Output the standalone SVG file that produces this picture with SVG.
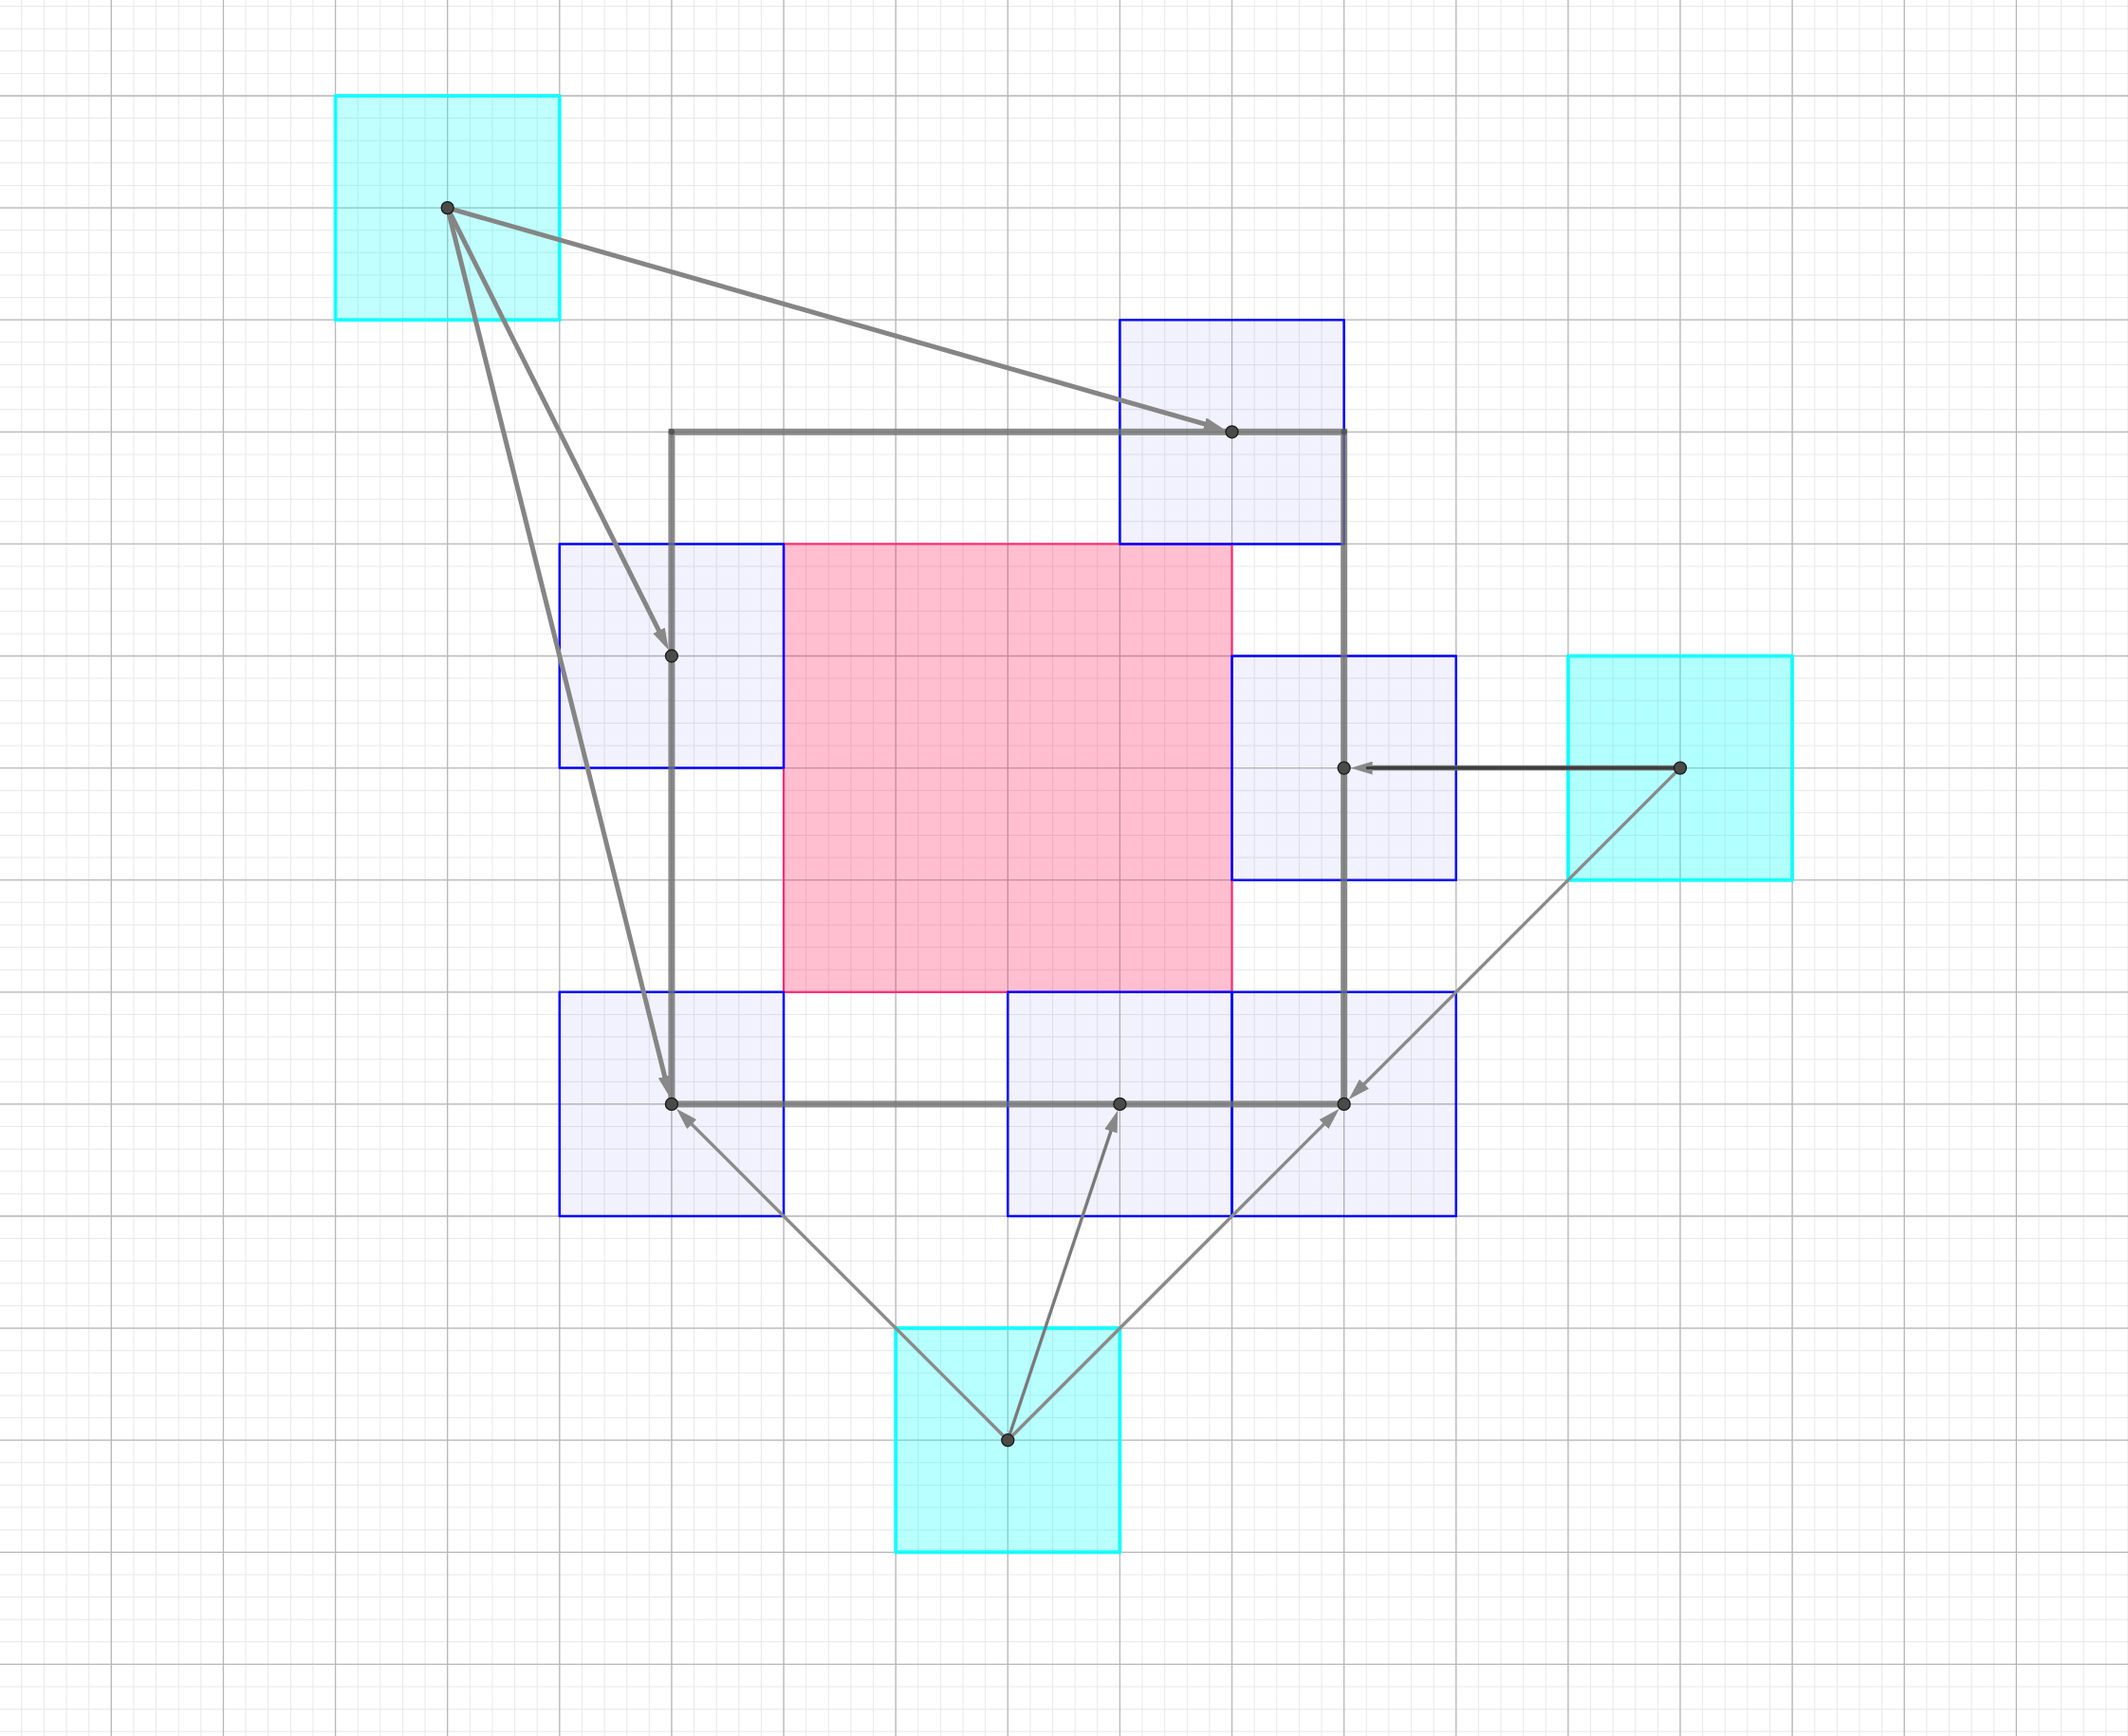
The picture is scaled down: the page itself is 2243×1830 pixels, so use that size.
<svg xmlns="http://www.w3.org/2000/svg" width="2243" height="1830" viewBox="0 0 2243 1830">
<style>
.cyan{fill:#00ffff;fill-opacity:0.26;stroke:#00ffff;stroke-opacity:0.85;stroke-width:4;stroke-linejoin:round}
.blue{fill:#0000ff;fill-opacity:0.05;stroke:#0000ff;stroke-width:2.5;stroke-linejoin:round}
.pink{fill:#ff0044;fill-opacity:0.25;stroke:#ff2a72;stroke-width:2.2}
.frame{fill:none;stroke:#6e6e6e;stroke-opacity:0.8;stroke-width:7;stroke-linejoin:miter}
.thick{stroke:#858585;stroke-width:5;fill:none;marker-end:url(#ah)}
.thin{stroke:#8a8a8a;stroke-width:3.4;fill:none;marker-end:url(#ah)}
.dot{fill:#4a4a4a;stroke:#1a1a1a;stroke-width:1.3}
</style>
<defs>
<marker id="ah" markerUnits="userSpaceOnUse" markerWidth="23" markerHeight="14" viewBox="0 0 23 14" refX="11" refY="7" orient="auto">
<path d="M0,0 L23,7 L0,14 z" fill="#888888"/>
</marker>
</defs>
<rect width="2243" height="1830" fill="#ffffff"/>
<g id="grid">
<line x1="-1.3" y1="915" x2="2243" y2="915" stroke="#e8e8e8" stroke-width="1830" stroke-dasharray="1 22.624"/>
<line x1="1121.5" y1="-17.6" x2="1121.5" y2="1830" stroke="#e8e8e8" stroke-width="2243" stroke-dasharray="1 22.62"/>
<line x1="-1.45" y1="915" x2="2243" y2="915" stroke="#b8b8b8" stroke-width="1830" stroke-dasharray="1.3 116.82"/>
<line x1="1121.5" y1="-17.75" x2="1121.5" y2="1830" stroke="#b8b8b8" stroke-width="2243" stroke-dasharray="1.3 116.8"/>
</g>
<g id="cyan-top-left"><rect class="cyan" style="fill-opacity:0.245" x="353.56" y="101" width="236.24" height="236.2"/></g>
<g id="cyan-right"><rect class="cyan" style="fill-opacity:0.3" x="1652.88" y="691.5" width="236.24" height="236.2"/></g>
<g id="cyan-bottom"><rect class="cyan" style="fill-opacity:0.28" x="944.16" y="1400.1" width="236.24" height="236.2"/></g>
<g id="pink-center"><rect class="pink" x="826.04" y="573.4" width="472.48" height="472.4"/></g>
<g id="blue-top"><rect class="blue" x="1180.4" y="337.2" width="236.24" height="236.2"/></g>
<g id="blue-left"><rect class="blue" x="589.8" y="573.4" width="236.24" height="236.2"/></g>
<g id="blue-right"><rect class="blue" x="1298.52" y="691.5" width="236.24" height="236.2"/></g>
<g id="blue-bottom-left"><rect class="blue" x="589.8" y="1045.8" width="236.24" height="236.2"/></g>
<g id="blue-bottom-middle"><rect class="blue" x="1062.28" y="1045.8" width="236.24" height="236.2"/></g>
<g id="blue-bottom-right"><rect class="blue" x="1298.52" y="1045.8" width="236.24" height="236.2"/></g>
<g id="frame">
<rect class="frame" x="707.92" y="455.3" width="708.72" height="708.6"/>
<circle cx="707.92" cy="455.3" r="3.2" fill="#555"/>
<circle cx="1416.64" cy="455.3" r="3.2" fill="#555"/>
</g>
<g id="connectors">
<line class="thick" x1="471.68" y1="219.1" x2="1280.25" y2="450.08"/>
<line class="thick" x1="471.68" y1="219.1" x2="699.42" y2="674.51"/>
<line class="thick" x1="471.68" y1="219.1" x2="703.31" y2="1145.47"/>
<line class="thick" style="stroke:#6a6a6a;stroke-width:5.5" x1="1771" y1="809.6" x2="1435.64" y2="809.6"/>
<line x1="1771" y1="809.6" x2="1440" y2="809.6" stroke="#3c3c3c" stroke-width="3"/>
<line class="thin" x1="1771" y1="809.6" x2="1430.08" y2="1150.47"/>
<line class="thin" x1="1062.28" y1="1518.2" x2="721.36" y2="1177.33"/>
<line class="thin" style="stroke:#7a7a7a" x1="1062.28" y1="1518.2" x2="1174.39" y2="1181.92"/>
<line class="thin" x1="1062.28" y1="1518.2" x2="1403.2" y2="1177.33"/>
</g>
<g id="points">
<circle class="dot" cx="471.68" cy="219.1" r="6.5"/>
<circle class="dot" cx="1298.52" cy="455.3" r="6.5"/>
<circle class="dot" cx="707.92" cy="691.5" r="6.5"/>
<circle class="dot" cx="1416.64" cy="809.6" r="6.5"/>
<circle class="dot" cx="1771" cy="809.6" r="6.5"/>
<circle class="dot" cx="707.92" cy="1163.9" r="6.5"/>
<circle class="dot" cx="1180.4" cy="1163.9" r="6.5"/>
<circle class="dot" cx="1416.64" cy="1163.9" r="6.5"/>
<circle class="dot" cx="1062.28" cy="1518.2" r="6.5"/>
</g>
</svg>
